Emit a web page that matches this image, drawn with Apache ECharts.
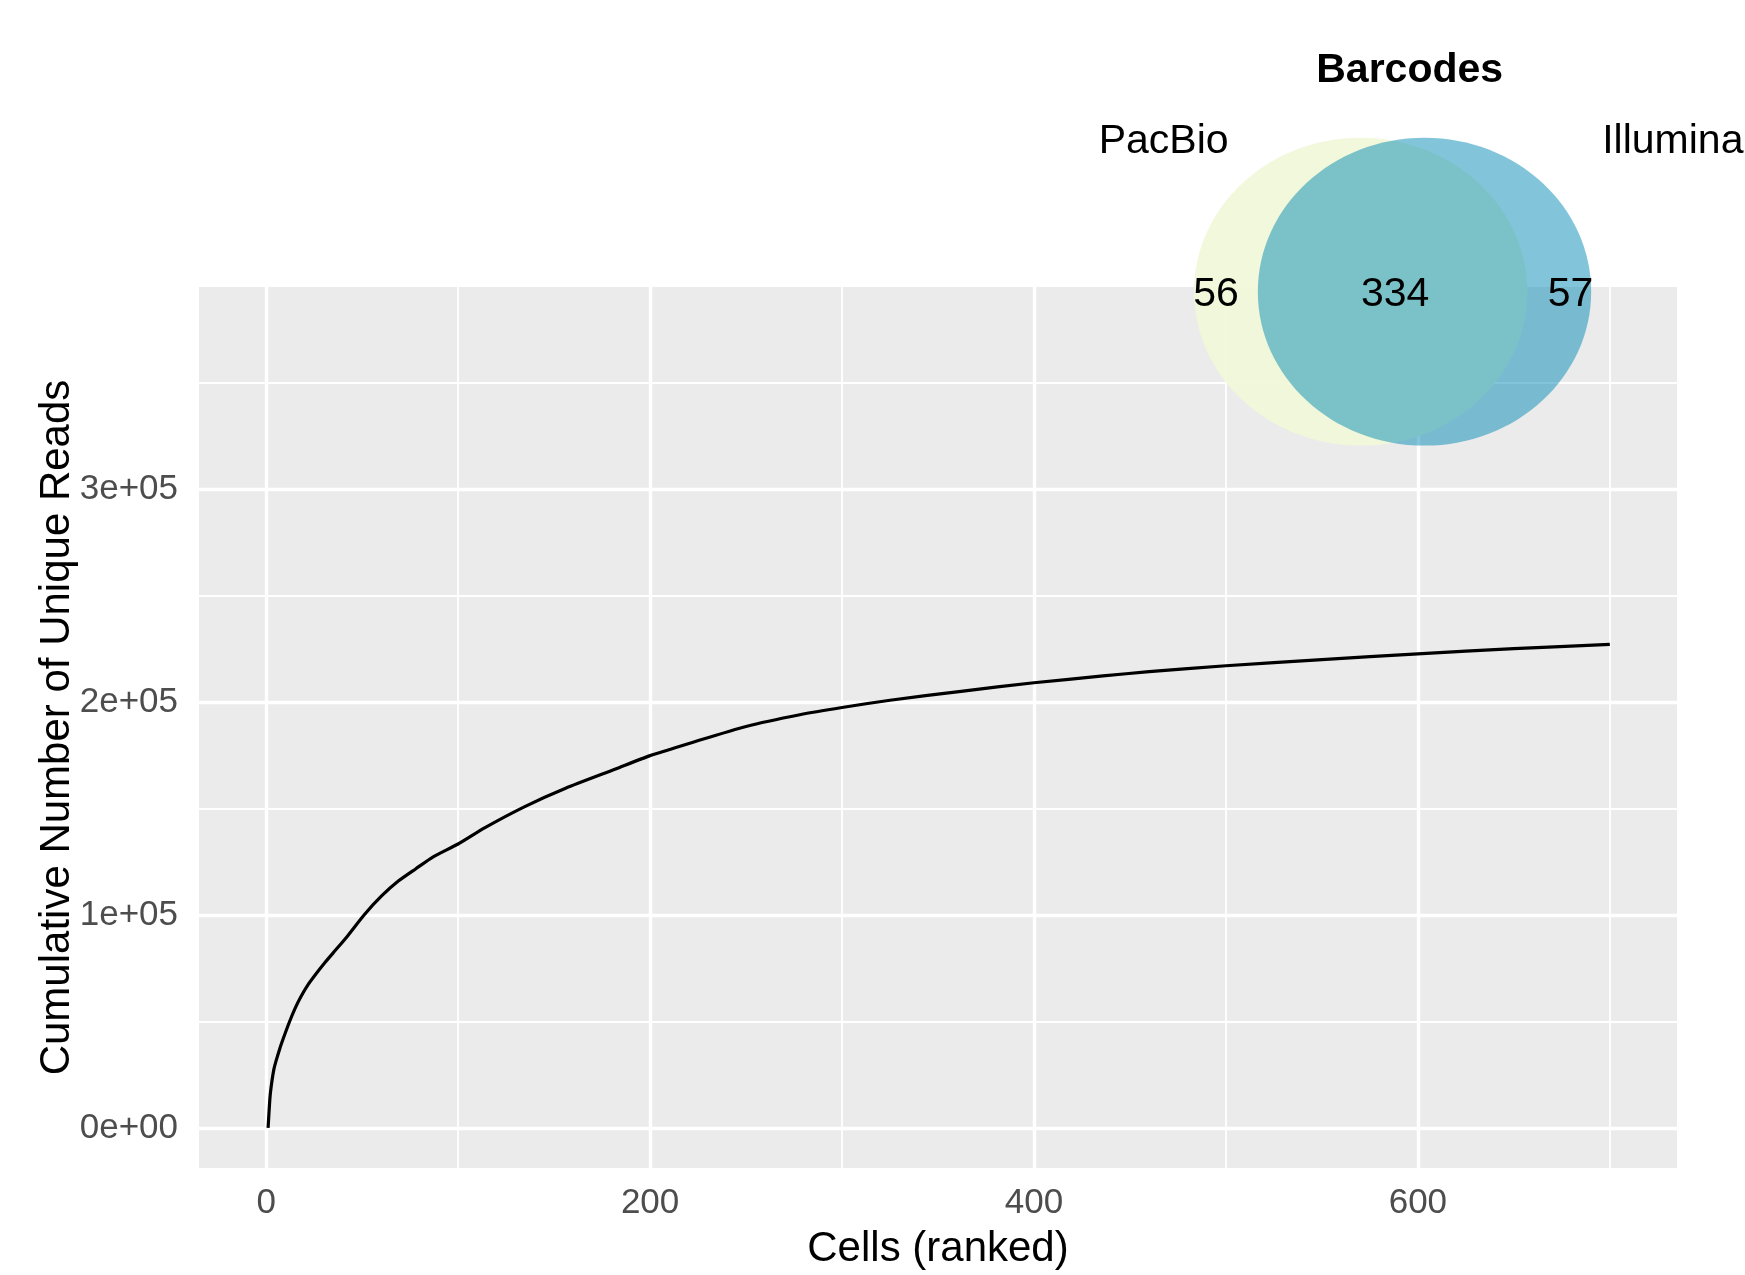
<!DOCTYPE html>
<html>
<head>
<meta charset="utf-8">
<script src="https://cdn.jsdelivr.net/npm/echarts@6.0.0/dist/echarts.min.js"></script>
<style>
html, body { margin: 0; padding: 0; background: #ffffff; }
#result { width: 1745px; height: 1275px; }
</style>
</head>
<body>
<div id="result"></div>
<script>
// cumulative unique reads, cells ranked
var cellRank = [1, 2, 3, 4, 5, 7, 9, 12, 15, 18, 22, 26, 30, 35, 42, 51, 60, 69, 78, 87,
    100, 114, 135, 156, 182, 200, 222, 250, 278, 300, 325, 362, 400, 436, 460, 500, 550, 600, 650, 700];
var cumReads = [0, 14500, 22000, 27500, 31000, 37000, 42200, 49500, 56000, 61500, 67500, 72400, 77000, 82300, 89700, 100000, 108800, 116000, 121700, 127300,
    133300, 141000, 151000, 159500, 168500, 174800, 181000, 188500, 194000, 197400, 200800, 205000, 209000, 212200, 214200, 217000, 219900, 222600, 225000, 227000];

var xTicks = [0, 200, 400, 600];
var xMinor = [100, 300, 500, 700];
var yTicks = [0, 100000, 200000, 300000];
var yTickLabels = ['0e+00', '1e+05', '2e+05', '3e+05'];
var yMinor = [50000, 150000, 250000, 350000];

// venn diagram
var vennTitle = 'Barcodes';
var vennSets = ['PacBio', 'Illumina'];
var vennCounts = [56, 334, 57]; // PacBio only, both, Illumina only

// venn layout (circle units)
var vennCircles = [
    { cx: 0, cy: 0, r: 1, color: 'rgba(240,247,216,0.92)' },
    { cx: 0.383, cy: 0, r: 1, color: 'rgba(5,139,182,0.5)' }
];
var vennCountPos = [[-0.868, -0.02], [0.207, -0.02], [1.259, -0.02]];
var vennSetPos = [[-1.182, 0.975], [1.873, 0.975]];
var vennTitlePos = [0.294, 1.435];

var FONT = '"Liberation Sans", Arial, Helvetica, sans-serif';

var vennTexts = [];
vennTexts.push({ value: vennTitlePos, text: vennTitle, bold: true });
vennSets.forEach(function (s, i) {
    vennTexts.push({ value: vennSetPos[i], text: s, bold: false });
});
vennCounts.forEach(function (c, i) {
    vennTexts.push({ value: vennCountPos[i], text: String(c), bold: false });
});

var gridLines = [];
xTicks.forEach(function (v) { gridLines.push({ xAxis: v, lineStyle: { width: 3.4 } }); });
xMinor.forEach(function (v) { gridLines.push({ xAxis: v, lineStyle: { width: 1.8 } }); });
yTicks.forEach(function (v) { gridLines.push({ yAxis: v, lineStyle: { width: 3.4 } }); });
yMinor.forEach(function (v) { gridLines.push({ yAxis: v, lineStyle: { width: 1.8 } }); });

var myChart = echarts.init(document.getElementById('result'));

myChart.setOption({
    animation: false,
    backgroundColor: '#ffffff',
    textStyle: { fontFamily: FONT },
    grid: [
        {
            left: 199,
            right: 68,
            top: 287,
            bottom: 103,
            show: true,
            backgroundColor: '#EBEBEB',
            borderWidth: 0
        },
        {
            left: 1144,
            top: 30,
            width: 600,
            height: 431,
            show: false
        }
    ],
    xAxis: [
        {
            type: 'value',
            gridIndex: 0,
            min: -35,
            max: 735,
            name: 'Cells (ranked)',
            nameLocation: 'middle',
            nameGap: 60,
            nameMoveOverlap: false,
            nameTextStyle: { fontSize: 42, color: '#000000', fontFamily: FONT },
            axisLine: { show: false },
            axisTick: {
                show: true,
                customValues: xTicks,
                length: 11,
                lineStyle: { color: '#333333', width: 3 }
            },
            axisLabel: {
                customValues: xTicks,
                fontSize: 35,
                color: '#4D4D4D',
                margin: 18,
                fontFamily: FONT
            },
            splitLine: { show: false }
        },
        {
            type: 'value',
            gridIndex: 1,
            min: -1.3,
            max: 2.3,
            show: false
        }
    ],
    yAxis: [
        {
            type: 'value',
            gridIndex: 0,
            min: -18800,
            max: 394800,
            name: 'Cumulative Number of Unique Reads',
            nameLocation: 'middle',
            nameGap: 121,
            nameMoveOverlap: false,
            nameRotate: 90,
            nameTextStyle: { fontSize: 42, color: '#000000', fontFamily: FONT },
            axisLine: { show: false },
            axisTick: {
                show: true,
                customValues: yTicks,
                length: 11,
                lineStyle: { color: '#333333', width: 3 }
            },
            axisLabel: {
                customValues: yTicks,
                fontSize: 35,
                color: '#4D4D4D',
                margin: 21,
                fontFamily: FONT,
                formatter: function (v) {
                    var i = yTicks.indexOf(v);
                    return i >= 0 ? yTickLabels[i] : '';
                }
            },
            splitLine: { show: false }
        },
        {
            type: 'value',
            gridIndex: 1,
            min: -1.1,
            max: 1.7,
            show: false
        }
    ],
    series: [
        {
            name: 'grid',
            type: 'line',
            xAxisIndex: 0,
            yAxisIndex: 0,
            z: 1,
            data: [],
            silent: true,
            markLine: {
                z: 1,
                silent: true,
                symbol: ['none', 'none'],
                label: { show: false },
                lineStyle: { color: '#FFFFFF', type: 'solid', width: 3 },
                data: gridLines
            }
        },
        {
            name: 'reads',
            type: 'line',
            xAxisIndex: 0,
            yAxisIndex: 0,
            z: 3,
            showSymbol: false,
            symbol: 'none',
            smooth: 0.2,
            lineStyle: { color: '#000000', width: 3.2 },
            data: cellRank.map(function (x, i) { return [x, cumReads[i]]; })
        },
        {
            name: 'venn',
            type: 'custom',
            xAxisIndex: 1,
            yAxisIndex: 1,
            z: 4,
            silent: true,
            data: vennCircles.map(function (c) { return [c.cx, c.cy, c.r]; }),
            renderItem: function (params, api) {
                var c = api.coord([api.value(0), api.value(1)]);
                var s = api.size([api.value(2), api.value(2)]);
                return {
                    type: 'ellipse',
                    shape: { cx: c[0], cy: c[1], rx: s[0], ry: s[1] },
                    style: { fill: vennCircles[params.dataIndex].color, stroke: null }
                };
            }
        },
        {
            name: 'venn labels',
            type: 'custom',
            xAxisIndex: 1,
            yAxisIndex: 1,
            z: 5,
            silent: true,
            data: vennTexts.map(function (t) { return t.value; }),
            renderItem: function (params, api) {
                var t = vennTexts[params.dataIndex];
                var c = api.coord([api.value(0), api.value(1)]);
                return {
                    type: 'text',
                    x: c[0],
                    y: c[1],
                    style: {
                        text: t.text,
                        fill: '#000000',
                        fontSize: 41,
                        fontWeight: t.bold ? 'bold' : 'normal',
                        fontFamily: FONT,
                        align: 'center',
                        verticalAlign: 'middle'
                    }
                };
            }
        }
    ]
});
</script>
</body>
</html>
